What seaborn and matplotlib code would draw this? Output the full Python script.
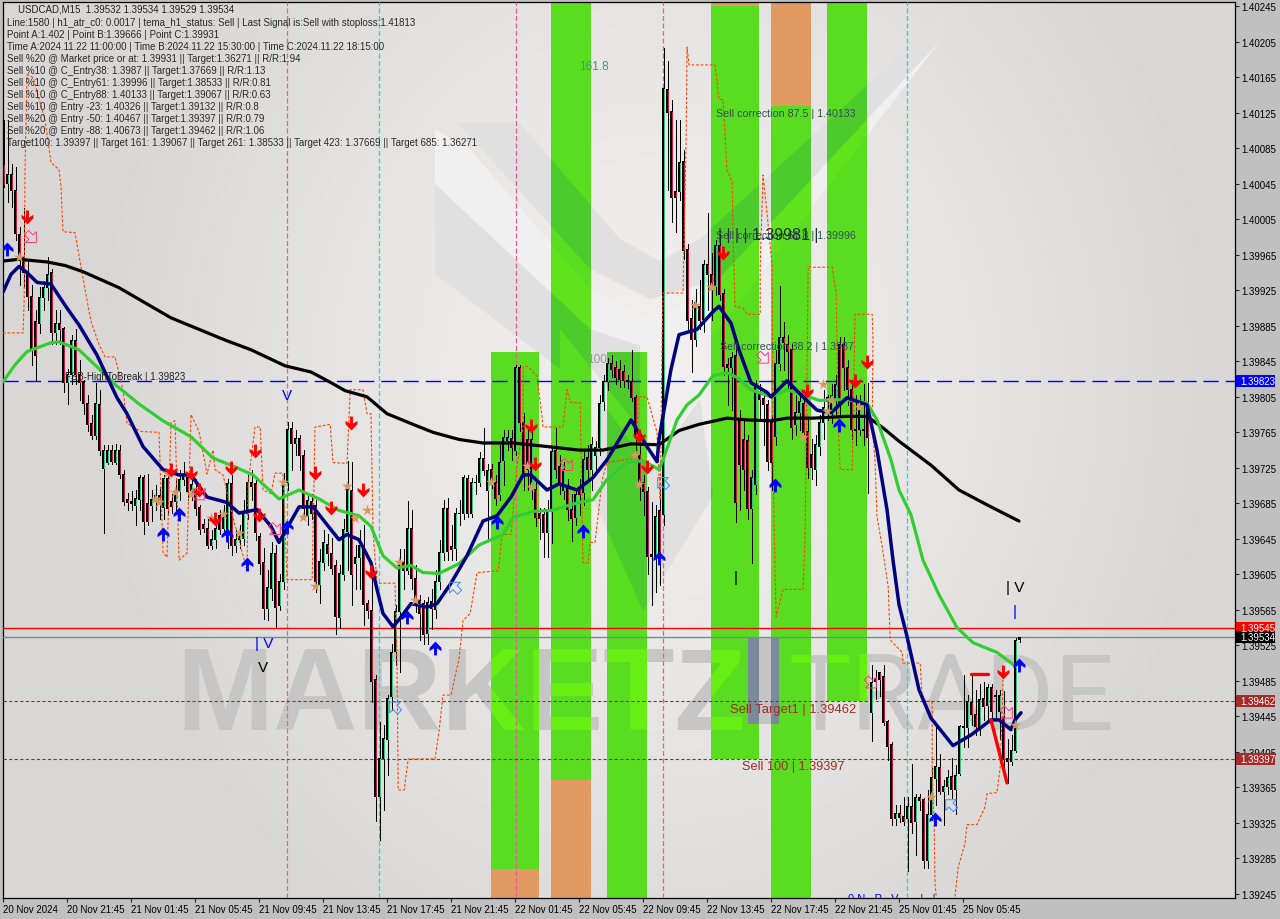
import numpy as np
import pandas as pd
import matplotlib
matplotlib.use("Agg")
import matplotlib.pyplot as plt
import seaborn as sns
from matplotlib.font_manager import FontProperties
from matplotlib.patches import Polygon, Rectangle
from matplotlib.path import Path
from matplotlib.transforms import Affine2D, Bbox, TransformedBbox

# prices are kept in 1e-5 units above 1.0, so 39545 means 1.39545
opens = [
    40067, 40045, 40055, 40038, 39988, 39963, 39945, 39918, 39890, 39888, 39917, 39928, 39945, 39877, 39888, 39882,
    39821, 39830, 39869, 39830, 39821, 39797, 39775, 39762, 39796, 39724, 39731, 39744, 39731, 39744, 39718, 39689,
    39687, 39683, 39689, 39714, 39685, 39683, 39688, 39694, 39680, 39713, 39687, 39687, 39698, 39712, 39714, 39700,
    39700, 39680, 39661, 39657, 39638, 39644, 39671, 39657, 39644, 39707, 39638, 39644, 39645, 39674, 39708, 39707,
    39648, 39618, 39567, 39589, 39629, 39570, 39597, 39708, 39769, 39752, 39758, 39739, 39671, 39687, 39682, 39593,
    39618, 39639, 39629, 39615, 39556, 39605, 39653, 39700, 39617, 39624, 39638, 39572, 39564, 39487, 39355, 39397,
    39419, 39467, 39518, 39563, 39618, 39609, 39657, 39600, 39575, 39572, 39538, 39574, 39565, 39597, 39630, 39679,
    39636, 39634, 39673, 39673, 39713, 39674, 39708, 39708, 39736, 39700, 39723, 39709, 39695, 39733, 39756, 39758,
    39745, 39838, 39776, 39757, 39706, 39701, 39674, 39672, 39652, 39676, 39745, 39727, 39700, 39703, 39678, 39669,
    39703, 39697, 39737, 39723, 39739, 39748, 39800, 39822, 39843, 39838, 39836, 39834, 39823, 39822, 39804, 39740,
    39708, 39698, 39627, 39625, 39677, 39672, 40151, 40127, 40036, 40036, 40070, 39971, 39893, 39870, 39907, 39892,
    39954, 39943, 39929, 39976, 39921, 39842, 39838, 39852, 39779, 39757, 39756, 39679, 39706, 39810, 39803, 39796,
    39776, 39760, 39843, 39872, 39864, 39858, 39774, 39787, 39798, 39766, 39740, 39723, 39749, 39776, 39800, 39790,
    39802, 39864, 39864, 39838, 39813, 39768, 39768, 39768, 39798, 39449, 39484, 39494, 39490, 39439, 39413, 39330,
    39335, 39332, 39330, 39343, 39326, 39354, 39351, 39283, 39334, 39375, 39387, 39360, 39366, 39377, 39362, 39381,
    39432, 39432, 39461, 39447, 39432, 39465, 39457, 39478, 39468, 39451, 39444, 39398, 39394, 39407, 39532,
]
closes = [
    40044, 40055, 40038, 39989, 39963, 39945, 39918, 39858, 39852, 39917, 39928, 39943, 39877, 39888, 39881, 39821,
    39830, 39869, 39830, 39821, 39797, 39774, 39762, 39797, 39744, 39744, 39744, 39732, 39745, 39717, 39687, 39686,
    39685, 39691, 39714, 39664, 39665, 39689, 39694, 39687, 39713, 39679, 39681, 39698, 39712, 39716, 39698, 39706,
    39679, 39656, 39657, 39638, 39644, 39657, 39656, 39674, 39707, 39638, 39644, 39652, 39674, 39708, 39704, 39652,
    39617, 39566, 39590, 39628, 39568, 39597, 39708, 39768, 39752, 39758, 39739, 39679, 39688, 39673, 39597, 39619,
    39641, 39628, 39612, 39557, 39606, 39656, 39701, 39605, 39624, 39637, 39571, 39564, 39484, 39355, 39397, 39420,
    39465, 39517, 39563, 39618, 39609, 39657, 39600, 39575, 39561, 39537, 39573, 39566, 39597, 39630, 39679, 39631,
    39633, 39673, 39674, 39714, 39674, 39708, 39709, 39736, 39722, 39722, 39709, 39691, 39731, 39759, 39759, 39748,
    39838, 39776, 39719, 39723, 39757, 39669, 39668, 39652, 39676, 39743, 39723, 39708, 39723, 39678, 39668, 39695,
    39695, 39734, 39723, 39751, 39748, 39798, 39822, 39843, 39836, 39827, 39824, 39823, 39822, 39804, 39762, 39709,
    39698, 39625, 39625, 39670, 39627, 40152, 40125, 40030, 40030, 40069, 39970, 39891, 39870, 39911, 39891, 39954,
    39943, 39931, 39976, 39920, 39839, 39838, 39849, 39686, 39729, 39723, 39679, 39714, 39819, 39802, 39796, 39732,
    39731, 39843, 39872, 39866, 39856, 39771, 39787, 39800, 39765, 39725, 39725, 39751, 39776, 39793, 39804, 39807,
    39819, 39796, 39838, 39813, 39768, 39767, 39794, 39767, 39759, 39483, 39488, 39487, 39438, 39411, 39330, 39336,
    39331, 39326, 39343, 39325, 39354, 39350, 39283, 39334, 39376, 39388, 39360, 39366, 39376, 39362, 39378, 39433,
    39433, 39462, 39447, 39433, 39464, 39456, 39477, 39451, 39467, 39468, 39396, 39394, 39407, 39531, 39534,
]
highs = [
    40117, 40117, 40067, 40064, 39996, 40018, 39960, 39931, 39903, 39929, 39936, 39963, 39949, 39903, 39903, 39884,
    39836, 39875, 39881, 39847, 39824, 39807, 39785, 39821, 39813, 39751, 39751, 39751, 39752, 39751, 39723, 39697,
    39699, 39700, 39717, 39717, 39718, 39700, 39706, 39703, 39717, 39723, 39695, 39712, 39723, 39732, 39719, 39714,
    39712, 39683, 39667, 39667, 39655, 39667, 39678, 39683, 39712, 39717, 39655, 39661, 39689, 39717, 39723, 39712,
    39652, 39635, 39610, 39641, 39638, 39605, 39719, 39777, 39777, 39768, 39762, 39745, 39695, 39695, 39689, 39633,
    39655, 39650, 39646, 39621, 39616, 39667, 39733, 39732, 39638, 39655, 39661, 39576, 39610, 39492, 39439, 39435,
    39469, 39526, 39571, 39633, 39633, 39688, 39677, 39616, 39582, 39576, 39579, 39588, 39610, 39644, 39689, 39691,
    39661, 39680, 39689, 39717, 39717, 39714, 39717, 39743, 39770, 39729, 39729, 39717, 39751, 39768, 39768, 39768,
    39841, 39841, 39787, 39768, 39768, 39712, 39680, 39680, 39689, 39750, 39770, 39740, 39732, 39712, 39695, 39700,
    39712, 39745, 39751, 39760, 39755, 39807, 39830, 39849, 39852, 39845, 39847, 39841, 39830, 39858, 39807, 39768,
    39717, 39703, 39687, 39683, 39700, 40198, 40183, 40140, 40117, 40117, 40083, 39977, 39914, 39926, 39937, 39959,
    40012, 39967, 39982, 39988, 39926, 39849, 39856, 39864, 39790, 39779, 39762, 39723, 39824, 39819, 39813, 39802,
    39785, 39858, 39930, 39889, 39875, 39864, 39807, 39807, 39813, 39779, 39757, 39762, 39785, 39813, 39807, 39820,
    39830, 39872, 39872, 39847, 39824, 39807, 39807, 39819, 39821, 39503, 39497, 39495, 39503, 39441, 39416, 39345,
    39345, 39354, 39354, 39391, 39357, 39357, 39353, 39362, 39387, 39433, 39402, 39373, 39385, 39398, 39390, 39435,
    39492, 39469, 39492, 39475, 39481, 39484, 39481, 39481, 39475, 39475, 39473, 39419, 39424, 39533, 39534,
]
lows = [
    40041, 40024, 40019, 39982, 39931, 39929, 39903, 39841, 39824, 39877, 39903, 39914, 39864, 39864, 39864, 39810,
    39797, 39819, 39819, 39802, 39786, 39766, 39758, 39757, 39740, 39652, 39729, 39729, 39729, 39714, 39683, 39678,
    39678, 39661, 39678, 39650, 39661, 39665, 39678, 39667, 39667, 39672, 39674, 39678, 39689, 39706, 39689, 39689,
    39672, 39650, 39653, 39635, 39633, 39635, 39650, 39650, 39635, 39627, 39630, 39635, 39638, 39667, 39689, 39644,
    39605, 39555, 39554, 39576, 39546, 39565, 39588, 39700, 39723, 39740, 39723, 39672, 39661, 39667, 39585, 39573,
    39610, 39616, 39605, 39538, 39545, 39599, 39610, 39571, 39588, 39588, 39548, 39556, 39461, 39327, 39306, 39340,
    39379, 39452, 39503, 39495, 39588, 39605, 39588, 39562, 39531, 39526, 39526, 39543, 39556, 39588, 39621, 39621,
    39621, 39621, 39661, 39667, 39670, 39670, 39695, 39705, 39717, 39642, 39702, 39683, 39689, 39706, 39745, 39734,
    39740, 39766, 39700, 39700, 39690, 39660, 39645, 39625, 39624, 39640, 39714, 39695, 39690, 39666, 39643, 39661,
    39672, 39683, 39712, 39700, 39720, 39740, 39790, 39813, 39827, 39819, 39816, 39816, 39815, 39800, 39745, 39689,
    39672, 39605, 39571, 39585, 39593, 39661, 40038, 40002, 39991, 40027, 39960, 39881, 39833, 39862, 39881, 39878,
    39903, 39892, 39920, 39914, 39830, 39796, 39790, 39664, 39678, 39700, 39667, 39618, 39695, 39779, 39751, 39723,
    39700, 39751, 39835, 39835, 39813, 39757, 39762, 39768, 39757, 39714, 39712, 39706, 39740, 39757, 39779, 39775,
    39785, 39785, 39813, 39796, 39757, 39751, 39762, 39751, 39697, 39417, 39464, 39468, 39435, 39396, 39322, 39322,
    39326, 39323, 39271, 39314, 39289, 39340, 39274, 39274, 39328, 39345, 39357, 39323, 39357, 39353, 39335, 39379,
    39411, 39411, 39435, 39424, 39424, 39441, 39441, 39441, 39441, 39419, 39385, 39370, 39390, 39405, 39529,
]

black_ma_bars = [0, 4, 11, 15.5, 20, 29, 42, 55.5, 62, 70.5, 77, 82, 85.5, 91, 96, 102.5, 107.5, 114, 120, 127.5,
                 136, 144, 150, 157, 164, 169, 174, 181, 186, 192, 196, 202.5, 211, 216, 220, 224, 232, 239, 247, 254]
black_ma_pts = [39958, 39960, 39957, 39953, 39946, 39928, 39894, 39869, 39858, 39840, 39833, 39821, 39812, 39805,
                39786, 39774, 39765, 39757, 39753, 39753, 39749, 39745, 39745, 39752, 39751, 39767, 39774, 39781,
                39779, 39778, 39781, 39781, 39783, 39783, 39770, 39755, 39728, 39700, 39681, 39665]

green_ma_bars = [0, 3, 6, 12, 14, 19, 23, 28, 34, 40, 47, 52.5, 57.5, 62.5, 69, 74, 79, 84, 89, 92, 95, 98.5, 102,
                 105, 109, 114, 119, 125, 127.5, 132.5, 137, 144, 147.5, 151, 156, 160, 164, 165, 168.5, 171, 174,
                 177.5, 181, 183.5, 187, 192, 196, 201, 204, 211, 216, 218.5, 222, 224, 227, 230, 234, 238.5, 242.5,
                 248.5, 253]
green_ma_pts = [39822, 39841, 39856, 39866, 39867, 39858, 39841, 39819, 39797, 39778, 39760, 39736, 39727, 39717,
                39690, 39700, 39690, 39677, 39671, 39659, 39626, 39612, 39615, 39607, 39606, 39617, 39638, 39650,
                39669, 39676, 39677, 39686, 39689, 39712, 39731, 39733, 39723, 39734, 39779, 39796, 39807, 39829,
                39832, 39827, 39813, 39805, 39813, 39806, 39801, 39802, 39798, 39779, 39734, 39700, 39672, 39621,
                39582, 39545, 39528, 39517, 39502]

navy_ma_bars = [0, 2, 4, 6, 8.5, 12, 16, 19, 23.5, 28.5, 31, 35, 40, 44, 47, 51, 56, 59, 63.5, 67, 69, 72, 74, 77.5,
                81, 84, 86, 89, 92, 93.5, 95, 97.5, 99, 102, 106, 108.5, 112, 116, 120, 123.5, 127, 130, 132, 136,
                139, 143.5, 147.5, 151, 157, 161, 163.5, 164, 167, 169, 173.5, 177.5, 179, 182, 184, 187, 191, 192,
                196, 200, 203.5, 207, 211, 216, 218.5, 221, 222.5, 224, 226, 229, 232, 237.5, 242, 247, 249, 252,
                253, 254.5]
navy_ma_pts = [39923, 39943, 39952, 39945, 39934, 39932, 39905, 39886, 39852, 39804, 39786, 39749, 39723, 39717,
               39717, 39692, 39686, 39674, 39678, 39659, 39641, 39665, 39681, 39681, 39661, 39644, 39650, 39644,
               39618, 39588, 39561, 39546, 39554, 39572, 39568, 39572, 39595, 39626, 39665, 39671, 39692, 39717,
               39717, 39700, 39707, 39700, 39714, 39734, 39779, 39749, 39732, 39757, 39836, 39875, 39881, 39901,
               39907, 39888, 39858, 39821, 39810, 39805, 39823, 39805, 39790, 39787, 39804, 39796, 39745, 39678,
               39621, 39571, 39535, 39475, 39443, 39412, 39424, 39441, 39441, 39430, 39441, 39449]

trail_a_bars = [0, 5, 5.3, 5.5, 6, 7.5, 10.5, 12, 14, 14.5, 15, 18, 19, 21, 22, 24, 25.5, 28, 30, 31, 34.5, 39, 40,
                41, 42, 43, 44, 46, 47, 49, 51, 52.5, 53, 55, 57, 61, 61.3, 63, 64.3, 65, 67, 68, 70, 71, 77.3, 78,
                81.8, 82.5, 86, 86.8, 90, 91, 92, 92.5, 93.5, 98, 98.5, 98.8, 100.3, 101.3, 108, 109, 110, 112, 114,
                115, 116.8, 118.5, 123.8, 124.8, 127, 128.5, 130, 130, 131.3, 133.5, 134.8, 135, 140, 141, 141.8,
                144.3, 144.5, 145, 146.3, 146.8, 148, 148.8, 149.8, 151, 158.5, 158.8, 161, 163.5, 164.3, 164.8,
                165, 170, 170.8, 171, 171.5, 178, 179, 180, 181, 182.3, 182.5, 183, 185, 186, 189.3, 189.3, 190,
                191, 192.3, 192.5, 193, 193.3, 195, 200, 200.5, 201, 201.3, 202.5, 207.3, 208.3, 208.8, 209.3,
                212.3, 213, 217.3, 217.5, 217.3, 218, 218.5, 219.8, 221.3, 221.8, 224.8, 225, 229.3, 229.8, 232.3,
                232.3, 232.8, 233, 233.3]
trail_a_pts = [39877, 39877, 39914, 40061, 40168, 40165, 40117, 40069, 40061, 40042, 39991, 39990, 39964, 39914,
               39890, 39864, 39850, 39850, 39813, 39775, 39766, 39765, 39630, 39624, 39776, 39778, 39621, 39629,
               39785, 39766, 39718, 39745, 39723, 39717, 39678, 39609, 39708, 39771, 39771, 39700, 39696, 39719,
               39719, 39599, 39599, 39771, 39774, 39731, 39730, 39813, 39813, 39786, 39786, 39653, 39595, 39595,
               39505, 39362, 39362, 39397, 39397, 39428, 39469, 39469, 39510, 39553, 39561, 39607, 39609, 39650,
               39650, 39727, 39771, 39839, 39839, 39828, 39781, 39771, 39771, 39813, 39799, 39798, 39745, 39618,
               39618, 39641, 39641, 39672, 39712, 39731, 39736, 39805, 39805, 39765, 39689, 39877, 39922, 39922,
               40098, 40199, 40179, 40179, 40140, 40140, 40061, 40047, 39990, 39907, 39905, 39898, 39898, 39952,
               40055, 40012, 39952, 39734, 39610, 39557, 39588, 39588, 39641, 39839, 39952, 39951, 39951, 39922,
               39771, 39723, 39723, 39898, 39898, 39869, 39771, 39734, 39670, 39636, 39591, 39531, 39517, 39505,
               39505, 39464, 39461, 39381, 39321, 39257, 39242]
trail_b_bars = [238, 238.8, 240.5, 241, 243.5, 245.5, 246, 248.5, 249.3, 249.8, 250]
trail_b_pts = [39242, 39275, 39302, 39323, 39323, 39343, 39358, 39359, 39388, 39452, 39486]

sell_arrow_bars = [6, 42, 47, 49, 53, 57, 63, 64, 78, 82, 87, 90, 92, 132, 133, 159, 161, 180, 201, 213, 216, 250]
sell_arrow_pts = [40007, 39721, 39718, 39699, 39666, 39724, 39743, 39671, 39718, 39679, 39774, 39699, 39606, 39771,
                  39728, 39760, 39725, 39966, 39810, 39822, 39843, 39494]
buy_arrow_bars = [1, 40, 44, 56, 61, 71, 101, 108, 123.5, 145, 164, 193, 209, 233, 254]
buy_arrow_pts = [39973, 39652, 39674, 39650, 39618, 39660, 39558, 39523, 39665, 39655, 39625, 39707, 39774, 39330,
                 39504]
star_bars = [4, 38, 39, 41, 43, 47, 52, 55, 59, 70, 75, 78, 86, 88, 91, 99, 103, 122, 132, 131, 158, 159, 173, 177,
             200, 205, 207, 206, 214, 232, 253]
star_pts = [39963, 39690, 39686, 39719, 39698, 39696, 39669, 39673, 39652, 39709, 39670, 39592, 39704, 39669, 39678,
            39619, 39576, 39709, 39703, 39727, 39740, 39707, 39908, 39929, 39760, 39819, 39802, 39789, 39793, 39354,
            39435]
hollow_sell_bars = [7, 49, 68, 141, 190, 217, 251]
hollow_sell_pts = [39985, 39695, 39656, 39728, 39849, 39483, 39449]
hollow_buy_bars = [98, 113, 165, 237]
hollow_buy_pts = [39455, 39590, 39708, 39345]

# green zones: first bar, last bar, low, high, then the orange part low/high (None if there is none)
zone_start = [122, 137, 151, 177, 192, 206]
zone_end = [134, 147, 161, 189, 202, 216]
zone_low = [39273, 39373, 39235, 39397, 39235, 39462]
zone_high = [39856, 40255, 39856, 40245, 40133, 40255]
orange_low = [39235, 39235, None, 40245, 40133, None]
orange_high = [39273, 39373, None, 40255, 40255, None]

y_tick_pts = list(range(39245, 40246, 40))
x_tick_bars = [0, 16, 32, 48, 64, 80, 96, 112, 128, 144, 160, 176, 192, 208, 224, 240]
x_tick_labels = ["20 Nov 2024", "20 Nov 21:45", "21 Nov 01:45", "21 Nov 05:45", "21 Nov 09:45", "21 Nov 13:45",
                 "21 Nov 17:45", "21 Nov 21:45", "22 Nov 01:45", "22 Nov 05:45", "22 Nov 09:45", "22 Nov 13:45",
                 "22 Nov 17:45", "22 Nov 21:45", "25 Nov 01:45", "25 Nov 05:45"]

header_lines = [
    "Line:1580 | h1_atr_c0: 0.0017 | tema_h1_status: Sell | Last Signal is:Sell with stoploss:1.41813",
    "Point A:1.402 | Point B:1.39666 | Point C:1.39931",
    "Time A:2024.11.22 11:00:00 | Time B:2024.11.22 15:30:00 | Time C:2024.11.22 18:15:00",
    "Sell %20 @ Market price or at: 1.39931 || Target:1.36271 || R/R:1.94",
    "Sell %10 @ C_Entry38: 1.3987 || Target:1.37669 || R/R:1.13",
    "Sell %10 @ C_Entry61: 1.39996 || Target:1.38533 || R/R:0.81",
    "Sell %10 @ C_Entry88: 1.40133 || Target:1.39067 || R/R:0.63",
    "Sell %10 @ Entry -23: 1.40326 || Target:1.39132 || R/R:0.8",
    "Sell %20 @ Entry -50: 1.40467 || Target:1.39397 || R/R:0.79",
    "Sell %20 @ Entry -88: 1.40673 || Target:1.39462 || R/R:1.06",
    "Target100: 1.39397 || Target 161: 1.39067 || Target 261: 1.38533 || Target 423: 1.37669 || Target 685: 1.36271",
]


def to_price(pts):
    return 1 + np.asarray(pts, dtype=float) / 1e5


sns.set_style("white")
plt.rcParams["font.family"] = ["Liberation Sans", "DejaVu Sans"]

fig = plt.figure(figsize=(12.8, 9.2), dpi=100, facecolor="#c0c0c0")
ax = fig.add_axes([3 / 1280, 21 / 920, 1232 / 1280, 896 / 920])
y_bottom, y_top = to_price(39240.3), to_price(40249.9)
ax.set_xlim(0, 308)
ax.set_ylim(y_bottom, y_top)

# top-left pixel coordinates, only for the decoration and the free labels
px = Affine2D().scale(1, -1).translate(0, 920)

# background gradient
gx, gy = np.meshgrid(np.linspace(0, 1, 320), np.linspace(0, 1, 230))
shade = 0.945 - 0.095 * np.clip(np.hypot((gx - 0.53) / 0.45, (gy - 0.42) / 0.72), 0, 1) ** 1.3
background = np.dstack([shade, shade * 0.996, shade * 0.988])
ax.imshow(background, extent=(0, 308, y_bottom, y_top), origin="upper", aspect="auto", zorder=0)

# zones
zone_verts, zone_codes, zone_boxes = [], [], []
for start, end, low, high, olow, ohigh in zip(zone_start, zone_end, zone_low, zone_high, orange_low, orange_high):
    ax.add_patch(Rectangle((start, to_price(low)), end - start, to_price(high) - to_price(low),
                           color="#5adc20", lw=0, zorder=2))
    rect = [(start, to_price(low)), (end, to_price(low)), (end, to_price(high)), (start, to_price(high)),
            (start, to_price(low))]
    zone_verts += rect
    zone_codes += [Path.MOVETO, Path.LINETO, Path.LINETO, Path.LINETO, Path.CLOSEPOLY]
    zone_boxes.append(TransformedBbox(Bbox([[start, to_price(low)], [end, to_price(high)]]), ax.transData))
    if olow is not None:
        ax.add_patch(Rectangle((start, to_price(olow)), end - start, to_price(ohigh) - to_price(olow),
                               color="#e09a62", lw=0, zorder=2))
zone_path = Path(zone_verts, zone_codes)

# watermark logo, once on the background and once tinted inside the zones
dark_shapes = [
    [(435, 152), (590, 305), (640, 345), (640, 430), (560, 330), (560, 370), (435, 275)],
    [(590, 493), (643, 612), (713, 497), (700, 400), (650, 470), (600, 400)],
    [(458, 124), (520, 124), (620, 240), (660, 262), (700, 240), (950, 10), (930, 60), (720, 280), (650, 300), (590, 270)],
]
light_shapes = [
    [(435, 130), (470, 150), (590, 290), (650, 320), (700, 300), (940, 42), (715, 335), (650, 350), (590, 330), (435, 185)],
]
for shape in dark_shapes:
    ax.add_patch(Polygon(shape, closed=True, color="#e0e0e0", lw=0, transform=px, zorder=1))
    tint = Polygon(shape, closed=True, color="#4ecb2c", lw=0, transform=px, zorder=2.2)
    ax.add_patch(tint)
    tint.set_clip_path(zone_path, ax.transData)
for shape in light_shapes:
    ax.add_patch(Polygon(shape, closed=True, color="#f0f0f0", lw=0, transform=px, zorder=1))
    tint = Polygon(shape, closed=True, color="#60e31c", lw=0, transform=px, zorder=2.2)
    ax.add_patch(tint)
    tint.set_clip_path(zone_path, ax.transData)

# the lime copies only go where a word crosses a zone
watermark = [("MARKETZ", 176, FontProperties(family="Liberation Sans", weight="bold", size=84), zone_boxes[:4]),
             ("TRADE", 788, FontProperties(family="Roboto", weight="normal", size=76), zone_boxes[4:])]
for word, x_pos, font, boxes in watermark:
    ax.text(x_pos, 730, word, transform=px, fontproperties=font, color="#c6c6c6", va="baseline", ha="left", zorder=1.2)
    for box in boxes:
        lime = ax.text(x_pos, 730, word, transform=px, fontproperties=font, color="#68ee12", va="baseline", ha="left",
                       zorder=2.4, clip_on=True)
        lime.set_clip_path(None)
        lime.set_clip_box(box)
ax.add_patch(Rectangle((748, 638), 31, 87, color="#c4c4c4", lw=0, transform=px, zorder=1.2))
slate = Rectangle((748, 638), 31, 87, color="#7b8a9b", lw=0, transform=px, zorder=2.4)
ax.add_patch(slate)
slate.set_clip_path(zone_path, ax.transData)

# vertical session lines
for bar, colour in [(71, "#e85ca0"), (128.25, "#e85ca0"), (165, "#e85ca0"), (94, "#00e5e5"), (226, "#00e5e5")]:
    ax.axvline(bar, color=colour, lw=0.9, ls=(0, (4, 2)), zorder=2.6)

# level lines
ax.axhline(to_price(39823), color="#0000ff", lw=1, ls=(0, (11, 5)), zorder=2.7)
ax.axhline(to_price(39545), color="#ff0000", lw=1, zorder=2.7)
ax.axhline(to_price(39534), color="#778899", lw=1, zorder=2.7)
ax.axhline(to_price(39462), color="#a52a2a", lw=0.8, ls=(0, (3, 2)), zorder=2.7)
ax.axhline(to_price(39397), color="#a52a2a", lw=0.8, ls=(0, (3, 2)), zorder=2.7)

# candles: black block 3 px wide with a 1 px coloured core, the way the terminal draws them
candles = pd.DataFrame({"open": to_price(opens), "close": to_price(closes),
                        "high": to_price(highs), "low": to_price(lows)})
candles["bar"] = np.arange(len(candles)) + 0.125
candles["top"] = candles[["open", "close"]].max(axis=1)
candles["bottom"] = candles[["open", "close"]].min(axis=1)
up = candles["close"] >= candles["open"]
one_px = (y_top - y_bottom) / 896
ax.vlines(candles["bar"], candles["low"], candles["high"], color="black", lw=0.72, zorder=3, antialiased=False)
ax.bar(candles["bar"], candles["top"] - candles["bottom"] + one_px, bottom=candles["bottom"] - one_px / 2, width=0.75,
       color="black", lw=0, zorder=3.1, antialiased=False)
tall = candles["top"] - candles["bottom"] > 2 * one_px
for mask, colour in [(up & tall, "#3cc47c"), (~up & tall, "#c0203c")]:
    ax.vlines(candles["bar"][mask], candles["bottom"][mask] + one_px / 2, candles["top"][mask] - one_px / 2,
              color=colour, lw=0.72, zorder=3.2, antialiased=False)

# dashed trailing stop
for bars, pts in [(trail_a_bars, trail_a_pts), (trail_b_bars, trail_b_pts)]:
    sns.lineplot(x=bars, y=to_price(pts), sort=False, estimator=None, color="#ff4500", lw=0.8,
                 ls=(0, (2.5, 1.6)), ax=ax, zorder=3.5)

# moving averages
sns.lineplot(x=black_ma_bars, y=to_price(black_ma_pts), sort=False, estimator=None, color="black", lw=2.3, ax=ax, zorder=4)
sns.lineplot(x=green_ma_bars, y=to_price(green_ma_pts), sort=False, estimator=None, color="#32cd32", lw=2.3, ax=ax, zorder=4.1)
sns.lineplot(x=navy_ma_bars, y=to_price(navy_ma_pts), sort=False, estimator=None, color="#000080", lw=2.5, ax=ax, zorder=4.2)

# red wave lines near the end
sns.lineplot(x=[242, 246.3], y=to_price([39493, 39493]), sort=False, estimator=None, color="#ff0000", lw=2.4, ax=ax, zorder=4.3)
sns.lineplot(x=[247, 251], y=to_price([39441, 39370]), sort=False, estimator=None, color="#ff0000", lw=2.4, ax=ax, zorder=4.3)

# signal markers
arrow_down = [(-0.18, 1), (0.18, 1), (0.18, 0.1), (0.75, 0.45), (0.75, 0.05), (0, -0.75), (-0.75, 0.05), (-0.75, 0.45), (-0.18, 0.1)]
arrow_up = [(x, -y) for x, y in arrow_down]
hollow = [(-0.25, 0.55), (0.25, 0.55), (0.25, 0), (0.65, 0), (0, -0.65), (-0.65, 0), (-0.25, 0)]
hollow_sell = Affine2D().rotate_deg(45).transform_path(Path(hollow + hollow[:1], closed=True))
hollow_buy = Affine2D().rotate_deg(-135).transform_path(Path(hollow + hollow[:1], closed=True))

ax.scatter(star_bars, to_price(star_pts), marker="*", s=70, color="#d89a5c", lw=0, zorder=4.6)
ax.scatter(sell_arrow_bars, to_price(sell_arrow_pts), marker=arrow_down, s=130, color="#ff0000", lw=0, zorder=5)
ax.scatter(buy_arrow_bars, to_price(buy_arrow_pts), marker=arrow_up, s=130, color="#0000ff", lw=0, zorder=5)
ax.scatter(hollow_sell_bars, to_price(hollow_sell_pts), marker=hollow_sell, s=90, facecolor="none",
           edgecolor="#ff3c78", lw=0.7, zorder=5)
ax.scatter(hollow_buy_bars, to_price(hollow_buy_pts), marker=hollow_buy, s=90, facecolor="none",
           edgecolor="#3c8cff", lw=0.7, zorder=5)

# info block
ax.text(18, 10, "USDCAD,M15  1.39532 1.39534 1.39529 1.39534", transform=px, fontsize=7, color="#222222",
        va="center", zorder=6)
for i, line in enumerate(header_lines):
    ax.text(7, 23 + 12 * i, line, transform=px, fontsize=7, color="#2a2a2a", va="center", zorder=6)

# chart labels
labels = [
    (716, 114, "Sell correction 87.5 | 1.40133", "#2f4f4f", 7.7),
    (716, 236, "Sell correction 61.8 | 1.39996", "#2f4f4f", 7.7),
    (720, 347, "Sell correction 38.2 | 1.3987", "#2f4f4f", 7.7),
    (718, 236, "| | | | 1.39981 |", "#1f3030", 11.5),
    (65, 377, "FSB-HighToBreak | 1.39823", "#222222", 7),
    (579, 67, "161.8", "#3c9c6c", 8.5),
    (587, 360, "100", "#9a9a9a", 8.5),
    (730, 710, "Sell Target1 | 1.39462", "#a52a2a", 9.4),
    (742, 767, "Sell 100 | 1.39397", "#a52a2a", 9.2),
]
for x_pos, y_pos, text, colour, size in labels:
    ax.text(x_pos, y_pos, text, transform=px, fontsize=size, color=colour, va="center", zorder=6)

# small wave letters
for x_pos, y_pos, text, colour in [(287, 396, "V", "#0000ff"), (264, 644, "| V", "#0000ff"), (263, 668, "V", "#000000"),
                                   (1015, 588, "| V", "#000000"), (1015, 612, "|", "#0000ff"), (736, 578, "|", "#000000")]:
    ax.text(x_pos, y_pos, text, transform=px, fontsize=11, color=colour, va="center", ha="center", zorder=6)
bottom_note = ax.text(848, 899, "0 N   P   V       |   |", transform=px, fontsize=8, color="#0000ff", va="center",
                      zorder=6, clip_on=True)

# axes dressing
ax.yaxis.tick_right()
ax.set_yticks(to_price(y_tick_pts))
ax.set_yticklabels([f"{v:.5f}" for v in to_price(y_tick_pts)])
ax.set_xticks(x_tick_bars)
ax.set_xticklabels(x_tick_labels, ha="left")
ax.tick_params(axis="y", right=True, length=3, width=0.8, pad=1.5, labelsize=7, labelcolor="black")
ax.tick_params(axis="x", bottom=True, length=3, width=0.8, pad=1.5, labelsize=7, labelcolor="black")
for spine in ax.spines.values():
    spine.set_visible(True)
    spine.set_color("black")
    spine.set_linewidth(0.9)

# price boxes on the right scale
price_boxes = [(39823, "#0000ff", "white"), (39545, "#ff0000", "white"), (39534, "#000000", "white"),
               (39462, "#a52a2a", "white"), (39397, "#a52a2a", "white")]
for pts, colour, text_colour in price_boxes:
    y_pos = 920 - ax.transData.transform((0, to_price(pts)))[1]
    ax.add_patch(Rectangle((1236, y_pos - 6), 39, 12, color=colour, lw=0, transform=px, clip_on=False, zorder=9))
    ax.text(1240, y_pos, f"{to_price(pts):.5f}", transform=px, fontsize=7, color=text_colour, va="center",
            clip_on=False, zorder=10)

fig.savefig("out.png", dpi=100, facecolor=fig.get_facecolor())
